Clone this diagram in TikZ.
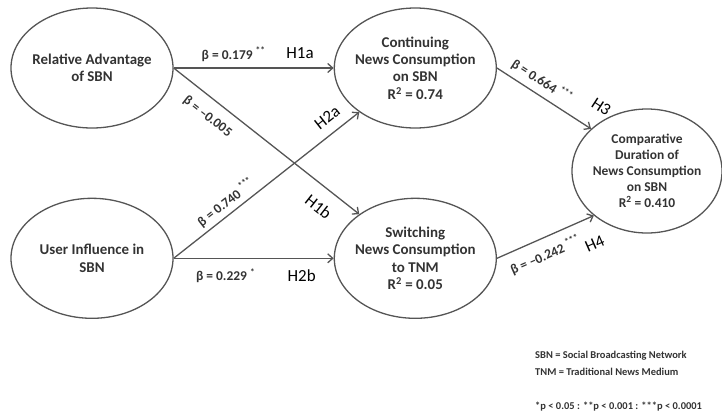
\documentclass[tikz,border=0pt]{standalone}
\usepackage{fontspec}
\setmainfont{Carlito}
\usetikzlibrary{positioning, shapes.geometric, arrows.meta}
\definecolor{pathgray}{HTML}{555555}
\definecolor{inkgray}{HTML}{333333}
\tikzset{
  construct/.style={ellipse, draw=pathgray, line width=1.3bp, inner sep=-8bp, minimum width=162bp, minimum height=120bp, align=center, text=inkgray, font=\fontsize{15}{17.5}\selectfont\bfseries},
  outcome/.style={construct, minimum width=150bp, minimum height=124bp, font=\fontsize{13.5}{16}\selectfont\bfseries},
  effect/.style={->, draw=pathgray, line width=1.3bp},
  coef/.style={text=inkgray, font=\fontsize{13.5}{16}\selectfont\bfseries, inner sep=0},
  hyp/.style={text=black, font=\fontsize{17}{20}\selectfont, inner sep=0},
  legend/.style={text=inkgray, font=\fontsize{10.5}{12}\selectfont\bfseries, inner sep=0, anchor=west},
  >={Straight Barb[length=5bp, width=9bp]}
}

\begin{document}
\begin{tikzpicture}[x=1bp, y=-1bp]
    \useasboundingbox (0,0) rectangle (722,419);
    \node[construct] (ra) at (92,68) {Relative Advantage\\of SBN};
    \node[construct, below=69bp of ra] (ui) {User Influence in\\SBN};
    \node[construct, right=160bp of ra] (c) {Continuing\\News Consumption\\on SBN\\R\textsuperscript{2} = 0.74};
    \node[construct, right=160bp of ui] (s) {Switching\\News Consumption\\to TNM\\R\textsuperscript{2} = 0.05};
    \node[outcome] (cd) at (647,171) {Comparative\\Duration of\\News Consumption\\on SBN\\R\textsuperscript{2} = 0.410};
    \draw[effect] (ra) -- (c) node[coef, pos=0.375, above=6bp] {β = 0.179 \textsuperscript{**}} node[hyp, pos=0.79, above=8.5bp] {H1a};
    \draw[effect] (ra.east) -- (s) node[coef, sloped, pos=0.24, below=11bp] {β = \textendash0.005} node[hyp, sloped, pos=0.845, below=13bp] {H1b};
    \draw[effect] (ui.east) -- (c) node[coef, sloped, pos=0.32, above=4bp] {β = 0.740 \textsuperscript{***}} node[hyp, sloped, pos=0.88, above=9.5bp] {H2a};
    \draw[effect] (ui) -- (s) node[coef, pos=0.325, below=10bp] {β = 0.229 \textsuperscript{*}} node[hyp, pos=0.8, below=10.5bp] {H2b};
    \draw[effect] (c.east) -- (cd.143) node[coef, sloped, pos=0.4, above=6bp] {β = 0.664 \textsuperscript{***}} node[hyp, sloped, pos=0.97, above=18bp] {H3};
    \draw[effect] (s.east) -- (cd.220) node[coef, sloped, pos=0.43, below=9bp] {β = \textendash0.242 \textsuperscript{***}} node[hyp, sloped, pos=0.9, below=20bp] {H4};
    \node[legend] (sbnkey) at (535,356) {SBN = Social Broadcasting Network};
    \node[legend] (tnmkey) at ([yshift=-16bp]sbnkey.west) {TNM = Traditional News Medium};
    \node[legend] (pkey) at (535,407) {*p < 0.05 : **p < 0.001 : ***p < 0.0001};
\end{tikzpicture}
\end{document}
